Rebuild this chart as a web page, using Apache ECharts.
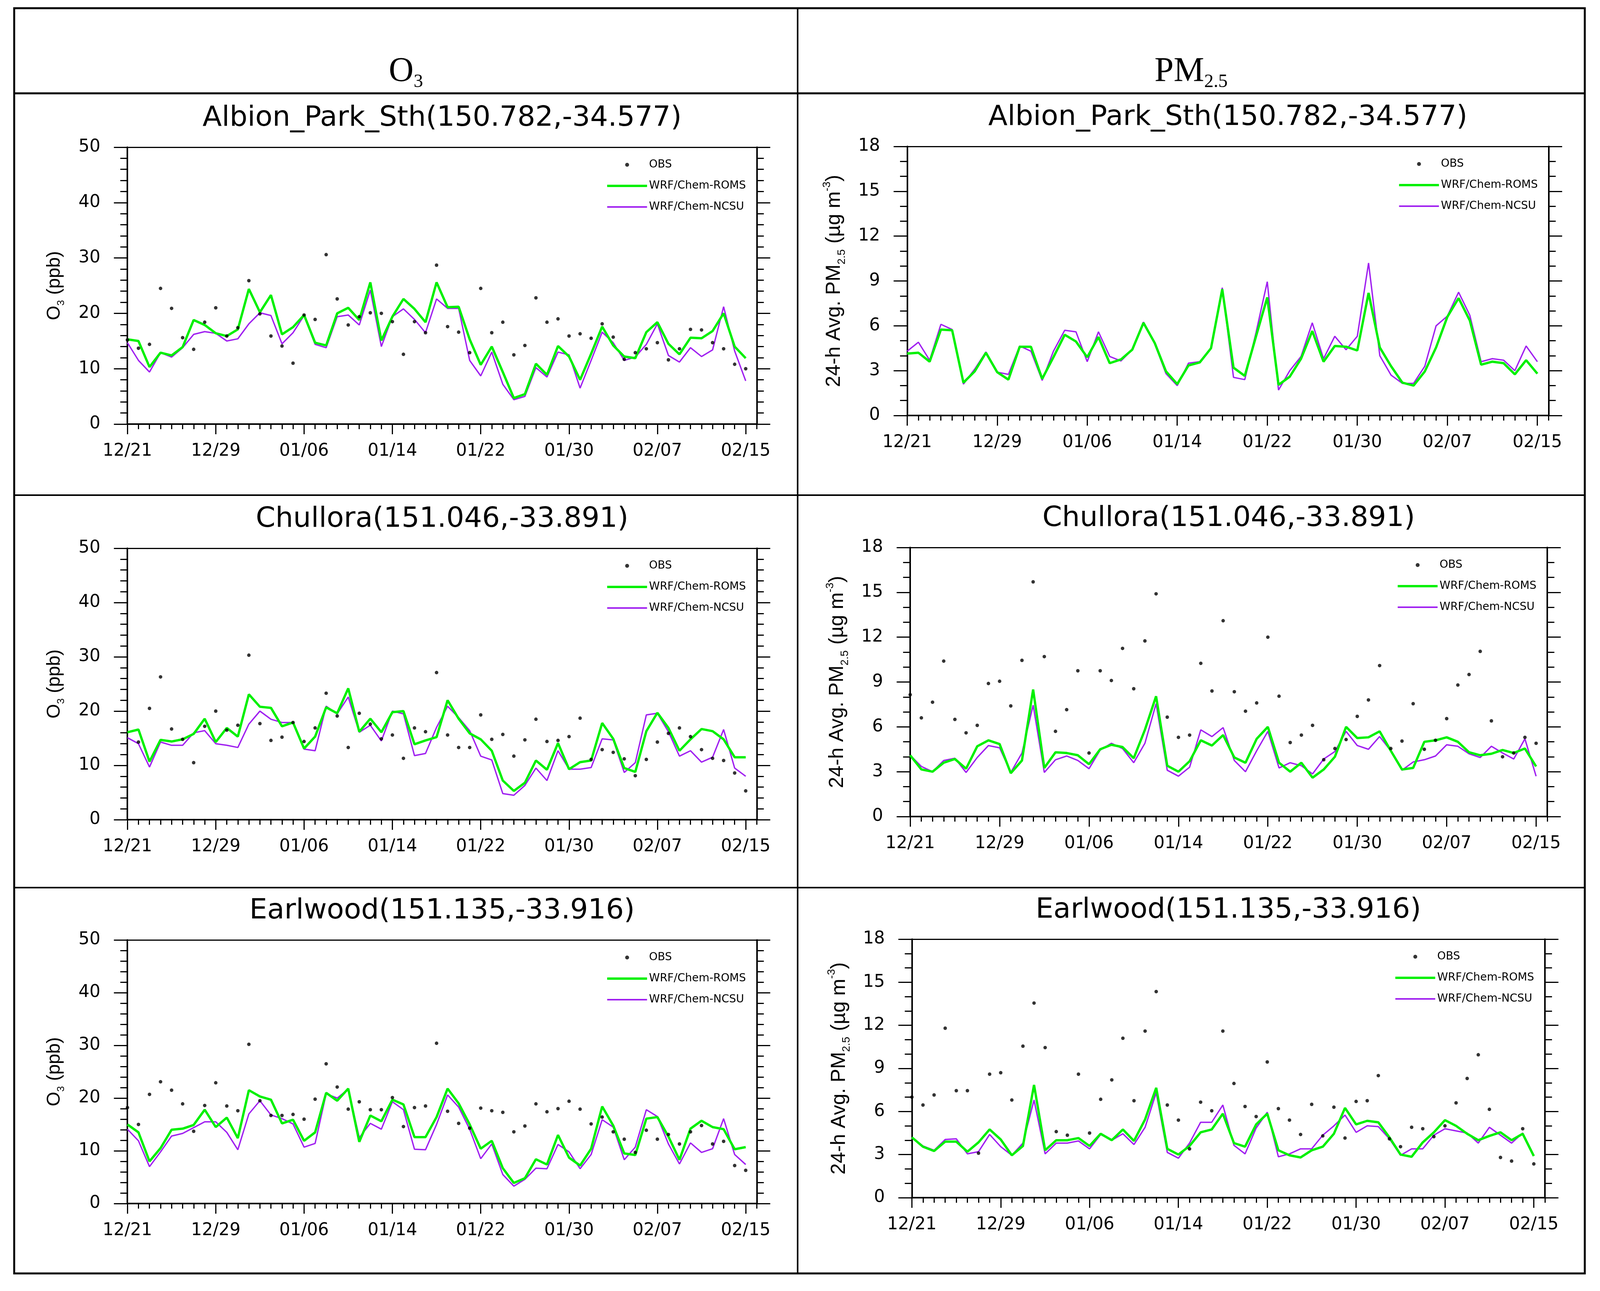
<!DOCTYPE html>
<html>
<head>
<meta charset="utf-8">
<title>O3 and PM2.5 at three NSW sites</title>
<script src="https://cdn.jsdelivr.net/npm/echarts@6.0.0/dist/echarts.min.js"></script>
<style>
html, body { margin: 0; padding: 0; background: #fff; overflow: hidden; }
#main { width: 100vw; height: 100vh; }
</style>
</head>
<body>
<div id="main"></div>
<script>
// days counted from 12/21, one value per day up to 02/15
var xTickDays = [0, 8, 16, 24, 32, 40, 48, 56];
var xTickLabels = ['12/21', '12/29', '01/06', '01/14', '01/22', '01/30', '02/07', '02/15'];
var seriesNames = ['OBS', 'WRF/Chem-ROMS', 'WRF/Chem-NCSU'];

// ---- O3 (ppb), Albion_Park_Sth
var o3AlbionObs = [15.2,13.7,14.4,24.5,20.9,15.6,13.5,18.4,21.0,15.9,17.4,25.9,19.9,15.9,14.1,11.0,19.7,18.9,30.6,22.6,17.9,19.4,20.1,20.0,18.5,12.6,18.5,16.5,28.7,17.6,16.6,12.9,24.5,16.5,18.4,12.5,14.2,22.8,18.4,19.0,15.9,16.3,15.5,18.1,15.7,11.7,12.9,13.6,14.7,11.6,13.6,17.1,17.0,14.7,13.6,10.8,10.0];
var o3AlbionRoms = [15.3,15.0,10.3,12.9,12.4,13.9,18.8,17.9,16.4,15.9,17.1,24.4,20.2,23.3,16.2,17.5,19.7,14.7,14.2,20.0,21.0,18.8,25.6,15.1,19.4,22.6,20.8,18.4,25.6,21.1,21.2,15.3,10.7,14.0,9.4,4.7,5.4,10.9,8.9,14.1,12.2,8.0,12.7,17.6,14.2,12.2,11.9,16.6,18.4,14.5,12.6,15.6,15.5,16.8,20.0,14.0,11.9];
var o3AlbionNcsu = [14.7,11.5,9.4,12.9,12.1,13.8,16.2,16.7,16.4,15.0,15.4,18.1,20.1,19.6,14.5,16.5,19.6,14.4,13.8,19.4,19.7,17.9,24.2,14.0,19.4,20.8,18.9,16.5,22.6,20.9,20.9,11.5,8.7,13.0,7.2,4.4,5.0,10.2,8.5,13.0,12.5,6.5,11.5,16.6,14.7,11.5,12.1,14.4,18.1,12.4,11.2,13.8,12.2,13.4,21.2,13.2,7.8];

// ---- PM2.5 (ug m-3), Albion_Park_Sth (no observations)
var pmAlbionObs = [];
var pmAlbionRoms = [4.14,4.2,3.6,5.75,5.7,2.2,2.95,4.2,2.9,2.4,4.6,4.6,2.45,3.9,5.4,4.95,3.9,5.25,3.5,3.75,4.4,6.2,4.85,2.95,2.1,3.35,3.55,4.5,8.45,3.2,2.65,5.3,7.9,2.05,2.6,3.8,5.65,3.6,4.65,4.6,4.35,8.2,4.55,3.3,2.2,2.0,2.95,4.55,6.6,7.85,6.35,3.4,3.6,3.5,2.75,3.7,2.8];
var pmAlbionNcsu = [4.3,4.9,3.7,6.1,5.75,2.1,3.1,4.25,2.9,2.75,4.65,4.3,2.35,4.3,5.7,5.6,3.6,5.6,3.95,3.65,4.4,6.25,4.8,2.8,2.0,3.5,3.6,4.5,8.55,2.55,2.4,5.55,8.95,1.7,3.0,3.95,6.2,3.8,5.3,4.4,5.3,10.2,4.0,2.7,2.15,2.15,3.3,6.0,6.65,8.25,6.7,3.6,3.8,3.7,3.0,4.65,3.6];

// ---- O3, Chullora
var o3ChulloraObs = [null,14.3,20.5,26.3,16.7,14.8,10.5,17.2,20.0,16.5,17.4,30.3,17.7,14.6,15.2,17.9,14.4,16.9,23.3,19.1,13.3,19.6,17.6,14.9,15.6,11.3,16.9,16.2,27.1,15.6,13.3,13.3,19.3,14.8,15.7,11.7,14.7,18.5,14.4,14.6,15.3,18.7,11.1,12.9,12.4,11.2,8.1,11.1,14.3,15.9,16.9,15.3,12.9,11.3,10.9,8.6,5.3];
var o3ChulloraRoms = [16.1,16.6,10.7,14.7,14.4,14.8,15.8,18.6,14.3,16.9,15.3,23.1,20.8,20.6,17.2,17.9,13.1,15.3,20.7,19.6,24.2,16.2,18.6,16.1,19.8,20.0,13.9,14.6,15.2,22.0,18.6,15.9,14.8,12.7,7.2,5.3,6.8,10.9,9.2,14.1,9.3,10.6,10.9,17.8,14.9,9.5,8.8,16.3,19.7,16.9,12.7,14.8,16.7,16.3,14.8,11.5,11.5];
var o3ChulloraNcsu = [15.1,14.0,9.7,14.3,13.7,13.7,16.0,16.4,14.0,13.7,13.3,17.6,20.0,18.5,17.9,17.9,13.0,12.7,20.9,19.5,22.6,16.1,17.4,14.5,20.0,19.5,11.8,12.2,17.0,20.9,18.8,16.4,11.7,11.0,4.8,4.5,6.3,9.5,7.2,12.7,9.3,9.3,9.6,14.9,14.7,8.7,10.5,19.3,19.6,16.2,11.7,12.7,10.6,11.5,16.6,9.5,8.0];

// ---- PM2.5, Chullora
var pmChulloraObs = [8.15,6.6,7.65,10.4,6.5,5.6,6.1,8.9,9.05,7.4,10.45,15.7,10.7,5.7,7.15,9.75,4.25,9.75,9.1,11.25,8.55,11.75,14.9,6.65,5.3,5.45,10.25,8.4,13.1,8.35,7.05,7.6,12.0,8.05,4.95,5.45,6.1,3.8,4.55,5.15,6.7,7.8,10.1,4.55,5.05,7.55,4.5,5.1,6.55,8.8,9.5,11.05,6.4,4.0,4.25,5.3,4.9];
var pmChulloraRoms = [4.1,3.15,3.0,3.6,3.85,3.2,4.7,5.1,4.85,2.9,3.75,8.5,3.25,4.3,4.25,4.1,3.5,4.5,4.8,4.65,3.9,5.8,8.05,3.4,3.0,3.7,5.1,4.75,5.45,3.95,3.6,5.2,6.0,3.6,3.0,3.6,2.6,3.15,4.0,6.0,5.25,5.3,5.7,4.4,3.15,3.25,5.0,5.1,5.3,5.0,4.3,4.1,4.2,4.45,4.25,4.55,3.35];
var pmChulloraNcsu = [4.1,3.35,3.0,3.75,3.9,2.95,3.95,4.75,4.6,2.95,4.25,7.45,2.95,3.8,4.05,3.75,3.2,4.45,4.9,4.55,3.6,4.9,7.55,3.1,2.7,3.3,5.8,5.35,5.95,3.75,3.0,4.4,5.7,3.25,3.6,3.4,2.85,3.85,4.35,5.7,4.75,4.5,5.35,4.4,3.1,3.65,3.8,4.05,4.8,4.7,4.2,3.95,4.7,4.25,3.85,5.2,2.7];

// ---- O3, Earlwood
var o3EarlwoodObs = [18.2,15.0,20.7,23.1,21.5,18.9,13.7,18.6,22.9,18.5,17.6,30.2,19.5,16.7,16.7,16.9,16.0,19.8,26.5,22.1,17.9,19.3,17.8,17.8,20.1,14.6,18.2,18.5,30.4,17.5,15.2,14.3,18.1,17.6,17.3,13.6,14.7,18.9,17.4,18.0,19.4,17.9,15.1,16.4,13.6,12.2,9.7,13.9,12.2,13.1,11.3,13.6,14.8,11.3,11.8,7.2,6.3];
var o3EarlwoodRoms = [15.0,13.5,8.0,10.5,14.0,14.2,14.9,17.8,14.5,16.3,12.4,21.5,20.3,19.7,15.2,15.9,11.9,13.5,21.0,19.5,21.8,11.7,16.7,15.6,19.7,18.8,12.6,12.6,16.4,21.8,19.0,15.0,10.4,11.9,6.7,3.9,4.8,8.4,7.4,13.0,8.7,7.2,10.4,18.4,14.8,9.5,9.2,16.1,16.4,12.7,8.3,14.2,15.7,14.5,14.1,10.3,10.7];
var o3EarlwoodNcsu = [14.1,11.9,7.0,9.8,12.8,13.3,14.4,15.5,15.5,13.5,10.2,17.0,19.5,16.8,16.1,15.1,10.7,11.4,20.8,20.0,21.7,12.5,15.2,14.1,19.3,17.8,10.3,10.2,15.0,20.6,18.3,14.1,8.5,11.3,5.5,3.3,4.6,6.7,6.6,11.2,9.8,6.6,9.3,15.9,14.5,8.3,10.7,17.8,16.5,11.3,7.5,11.5,9.7,10.4,16.1,9.3,7.4];

// ---- PM2.5, Earlwood
var pmEarlwoodObs = [7.0,6.45,7.15,11.8,7.45,7.45,3.1,8.6,8.7,6.8,10.55,13.55,10.45,4.6,4.35,8.6,4.5,6.85,8.2,11.1,6.75,11.6,14.35,6.45,5.4,3.4,6.65,6.05,11.6,7.95,6.35,5.65,9.45,6.2,5.4,4.4,6.5,4.3,6.3,4.15,6.7,6.75,8.5,4.1,3.55,4.9,4.8,4.25,5.0,6.6,8.3,9.95,6.15,2.8,2.55,4.8,2.35];
var pmEarlwoodRoms = [4.2,3.55,3.25,3.9,3.9,3.2,3.85,4.75,4.05,2.95,3.6,7.85,3.3,4.0,4.0,4.15,3.6,4.45,4.0,4.75,3.95,5.45,7.65,3.4,3.0,3.6,4.55,4.75,5.85,3.8,3.55,5.1,5.85,3.3,2.95,2.8,3.3,3.55,4.45,6.25,5.1,5.35,5.25,4.2,3.0,2.85,3.85,4.55,5.4,5.0,4.45,4.0,4.3,4.55,4.0,4.45,2.9];
var pmEarlwoodNcsu = [4.2,3.6,3.3,4.05,4.1,3.05,3.2,4.4,3.55,2.95,3.8,6.8,3.05,3.8,3.8,3.95,3.4,4.4,4.0,4.45,3.7,4.9,7.3,3.15,2.75,3.8,5.25,5.25,6.45,3.65,3.05,4.85,5.95,2.85,3.05,3.4,3.4,4.35,5.0,5.75,4.55,5.0,4.95,4.1,2.95,3.4,3.4,4.35,4.8,4.65,4.5,3.8,4.9,4.35,3.8,4.5,2.95];

var GREEN = '#00f000';
var PURPLE = '#a020f0';
var TICK_FONT = 'DejaVu Sans';
var NAME_FONT = "'Liberation Sans Narrow', 'Liberation Sans', sans-serif";
var HEAD_FONT = "'Liberation Serif', 'DejaVu Serif', serif";

var myChart = echarts.init(document.getElementById('main'));

// layout is measured on a 4734 x 3306 page, then fitted to the window
var sx = myChart.getWidth() / 4734;
var sy = myChart.getHeight() / 3306;
function X(v) { return v * sx; }
function Y(v) { return v * sy; }
function F(v) { return Math.round(v * sy); }

function nameStyle(fs, lh, subFs, subLh, supLh) {
    return {
        n: { fontFamily: NAME_FONT, fontSize: F(fs), lineHeight: F(lh), color: '#000' },
        s: { fontFamily: NAME_FONT, fontSize: F(subFs), lineHeight: F(subLh), color: '#000', verticalAlign: 'bottom' },
        p: { fontFamily: NAME_FONT, fontSize: F(subFs), lineHeight: F(supLh), color: '#000', verticalAlign: 'top' }
    };
}

var kinds = {
    o3: { max: 50, interval: 10, minorSplit: 5, gap: 181,
          name: '{n|O}{s|3}{n| (ppb)}', rich: nameStyle(48, 60, 26, 12, 12) },
    pm: { max: 18, interval: 3, minorSplit: 3, gap: 177,
          name: '{n|24-h Avg. PM}{s|2.5}{n| (µg m}{p|-3}{n|)}', rich: nameStyle(52, 66, 28, 25, 24) }
};

var headRich = {
    b: { fontFamily: HEAD_FONT, fontSize: F(88), lineHeight: F(100), fontWeight: 'normal', color: '#000' },
    s: { fontFamily: HEAD_FONT, fontSize: F(48), lineHeight: F(76), fontWeight: 'normal', color: '#000', verticalAlign: 'bottom' }
};

// box = [left, top, width, height] of each plot frame
var panels = [
    { title: 'Albion_Park_Sth(150.782,-34.577)', kind: 'o3', box: [377, 377, 1862, 709], obs: o3AlbionObs, roms: o3AlbionRoms, ncsu: o3AlbionNcsu },
    { title: 'Albion_Park_Sth(150.782,-34.577)', kind: 'pm', box: [2684, 375, 1898, 689], obs: pmAlbionObs, roms: pmAlbionRoms, ncsu: pmAlbionNcsu },
    { title: 'Chullora(151.046,-33.891)', kind: 'o3', box: [377, 1404, 1862, 695], obs: o3ChulloraObs, roms: o3ChulloraRoms, ncsu: o3ChulloraNcsu },
    { title: 'Chullora(151.046,-33.891)', kind: 'pm', box: [2693, 1402, 1885, 689], obs: pmChulloraObs, roms: pmChulloraRoms, ncsu: pmChulloraNcsu },
    { title: 'Earlwood(151.135,-33.916)', kind: 'o3', box: [377, 2407, 1862, 675], obs: o3EarlwoodObs, roms: o3EarlwoodRoms, ncsu: o3EarlwoodNcsu },
    { title: 'Earlwood(151.135,-33.916)', kind: 'pm', box: [2698, 2405, 1873, 662], obs: pmEarlwoodObs, roms: pmEarlwoodRoms, ncsu: pmEarlwoodNcsu }
];

function toPairs(arr) {
    var out = [];
    for (var i = 0; i < arr.length; i++) {
        if (arr[i] != null) out.push([i, arr[i]]);
    }
    return out;
}

var frameLine = { color: '#000', width: 4 };
var tickLine = { color: '#000', width: 3 };

var option = {
    animation: false,
    backgroundColor: '#fff',
    textStyle: { fontFamily: TICK_FONT },
    title: [
        { text: '{b|O}{s|3}', left: X(1201), top: Y(134), textAlign: 'center', padding: 0,
          textStyle: { fontWeight: 'normal', rich: headRich } },
        { text: '{b|PM}{s|2.5}', left: X(3524), top: Y(134), textAlign: 'center', padding: 0,
          textStyle: { fontWeight: 'normal', rich: headRich } }
    ],
    legend: [],
    grid: [],
    xAxis: [],
    yAxis: [],
    series: [],
    graphic: { elements: [
        { type: 'rect', silent: true, shape: { x: X(42), y: Y(21), width: X(4647), height: Y(3240) }, style: { fill: 'none', stroke: '#000', lineWidth: 5 } },
        { type: 'line', silent: true, shape: { x1: X(42), y1: Y(239), x2: X(4689), y2: Y(239) }, style: { stroke: '#000', lineWidth: 5 } },
        { type: 'line', silent: true, shape: { x1: X(42), y1: Y(1268), x2: X(4689), y2: Y(1268) }, style: { stroke: '#000', lineWidth: 4 } },
        { type: 'line', silent: true, shape: { x1: X(42), y1: Y(2273), x2: X(4689), y2: Y(2273) }, style: { stroke: '#000', lineWidth: 4 } },
        { type: 'line', silent: true, shape: { x1: X(2360), y1: Y(21), x2: X(2360), y2: Y(3261) }, style: { stroke: '#000', lineWidth: 4 } }
    ] }
};

panels.forEach(function (p, i) {
    var k = kinds[p.kind];
    var left = p.box[0], top = p.box[1], w = p.box[2], h = p.box[3];

    option.grid.push({ left: X(left), top: Y(top), width: X(w), height: Y(h), outerBoundsMode: 'none' });

    option.title.push({
        text: p.title, left: X(left + w / 2), top: Y(top - 110), textAlign: 'center', padding: 0,
        textStyle: { fontFamily: TICK_FONT, fontSize: F(72), fontWeight: 'normal', color: '#000' }
    });

    option.legend.push({
        orient: 'vertical', left: X(left + w - 446), top: Y(top + 31), padding: 0,
        itemWidth: X(118), itemHeight: F(10), itemGap: Y(26), selectedMode: false,
        textStyle: { fontFamily: TICK_FONT, fontSize: F(28), color: '#000', lineHeight: F(28) },
        data: [
            { name: seriesNames[0] },
            { name: seriesNames[1], itemStyle: { opacity: 0 }, lineStyle: { width: 6 } },
            { name: seriesNames[2], itemStyle: { opacity: 0 }, lineStyle: { width: 4 } }
        ]
    });

    // bottom axis: date labels and long ticks
    option.xAxis.push({
        type: 'value', gridIndex: i, position: 'bottom', min: 0, max: 57, interval: 8,
        axisLine: { show: true, onZero: false, lineStyle: frameLine },
        axisTick: { show: true, inside: false, length: Y(26), customValues: xTickDays, lineStyle: tickLine },
        axisLabel: { show: true, margin: Y(48), customValues: xTickDays, fontFamily: TICK_FONT, fontSize: F(44), color: '#000',
            formatter: function (v) { var j = xTickDays.indexOf(v); return j < 0 ? '' : xTickLabels[j]; } },
        splitLine: { show: false }
    });
    // bottom axis: daily short ticks
    option.xAxis.push({
        type: 'value', gridIndex: i, position: 'bottom', min: 0, max: 57, interval: 1,
        axisLine: { show: false, onZero: false },
        axisTick: { show: true, inside: false, length: Y(13), lineStyle: tickLine },
        axisLabel: { show: false },
        splitLine: { show: false }
    });
    // top frame line
    option.xAxis.push({
        type: 'value', gridIndex: i, position: 'top', min: 0, max: 57, interval: 8,
        axisLine: { show: true, onZero: false, lineStyle: { color: '#000', width: 3 } },
        axisTick: { show: false }, axisLabel: { show: false }, splitLine: { show: false }
    });

    option.yAxis.push({
        type: 'value', gridIndex: i, position: 'left', min: 0, max: k.max, interval: k.interval,
        name: k.name, nameLocation: 'middle', nameGap: X(k.gap),
        nameTextStyle: { rich: k.rich },
        axisLine: { show: true, onZero: false, lineStyle: frameLine },
        axisTick: { show: true, inside: false, length: X(40), lineStyle: tickLine },
        minorTick: { show: true, splitNumber: k.minorSplit, length: X(21), lineStyle: tickLine },
        axisLabel: { show: true, margin: X(80), fontFamily: TICK_FONT, fontSize: F(44), color: '#000' },
        splitLine: { show: false }
    });
    option.yAxis.push({
        type: 'value', gridIndex: i, position: 'right', min: 0, max: k.max, interval: k.interval,
        axisLine: { show: true, onZero: false, lineStyle: frameLine },
        axisTick: { show: true, inside: false, length: X(40), lineStyle: tickLine },
        minorTick: { show: true, splitNumber: k.minorSplit, length: X(21), lineStyle: tickLine },
        axisLabel: { show: false },
        splitLine: { show: false }
    });

    var xi = i * 3, yi = i * 2;
    option.series.push({
        name: seriesNames[1], type: 'line', xAxisIndex: xi, yAxisIndex: yi, z: 3,
        symbol: 'none', data: toPairs(p.roms),
        lineStyle: { color: GREEN, width: 6 }, itemStyle: { color: GREEN }
    });
    option.series.push({
        name: seriesNames[2], type: 'line', xAxisIndex: xi, yAxisIndex: yi, z: 2,
        symbol: 'none', data: toPairs(p.ncsu),
        lineStyle: { color: PURPLE, width: 3.5 }, itemStyle: { color: PURPLE }
    });
    option.series.push({
        name: seriesNames[0], type: 'scatter', xAxisIndex: xi, yAxisIndex: yi, z: 4,
        symbol: 'circle', symbolSize: F(9), data: toPairs(p.obs),
        itemStyle: { color: '#000' }
    });
});

myChart.setOption(option, true);
</script>
</body>
</html>
